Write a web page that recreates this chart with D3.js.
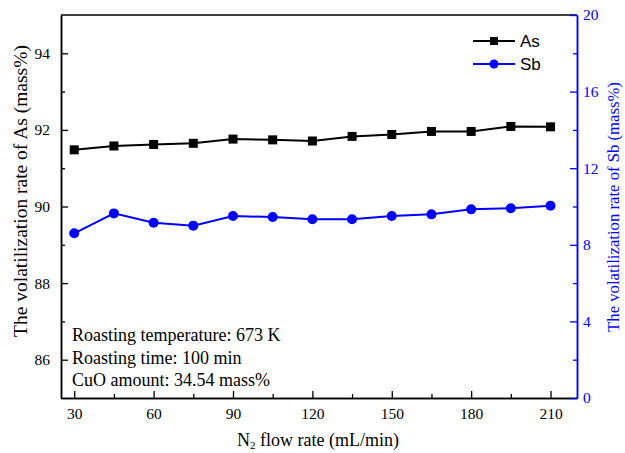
<!DOCTYPE html>
<html><head><meta charset="utf-8">
<script src="https://cdn.jsdelivr.net/npm/d3@7"></script>
<style>body{margin:0;background:#fff}svg{display:block}</style>
</head><body>
<svg id="c" width="625" height="453"></svg>
<script>
const flow = [30,45,60,75,90,105,120,135,150,165,180,195,210];
const asRate = [91.48,91.58,91.62,91.65,91.76,91.74,91.71,91.83,91.88,91.96,91.96,92.09,92.08];
const sbRate = [8.60,9.64,9.15,9.00,9.50,9.45,9.33,9.33,9.50,9.59,9.85,9.91,10.04];
const xTicks = [30,60,90,120,150,180,210];
const xMinor = [45,75,105,135,165,195];
const yLeftTicks = [86,88,90,92,94];
const yLeftMinor = [87,89,91,93];
const yRightTicks = [0,4,8,12,16,20];
const yRightMinor = [2,6,10,14,18];
const notes = ["Roasting temperature: 673 K","Roasting time: 100 min","CuO amount: 34.54 mass%"];

const L=61,R=577,T=15,B=398;
const svg=d3.select("#c");
const x=d3.scaleLinear().domain([25,220]).range([L,R]);
const yL=d3.scaleLinear().domain([85,95]).range([B,T]);
const yR=d3.scaleLinear().domain([0,20]).range([B,T]);
const serif="'Liberation Serif','Times New Roman',serif";
const blue="#0000ff";

// top border
svg.append("line").attr("x1",L).attr("x2",R).attr("y1",T).attr("y2",T).attr("stroke","#000").attr("stroke-width",1.5);

function styleAxis(g,color,fs){
  g.select(".domain").attr("stroke",color).attr("stroke-width",1.5);
  g.selectAll(".tick line").attr("stroke",color).attr("stroke-width",1.3);
  g.selectAll(".tick text").attr("fill",color).attr("font-family",serif).attr("font-size",fs);
}
// bottom axis
const gx=svg.append("g").attr("transform",`translate(0,${B})`)
  .call(d3.axisBottom(x).tickValues(xTicks).tickSizeInner(-7).tickSizeOuter(0).tickPadding(10));
styleAxis(gx,"#000",15.5);
const gxm=svg.append("g").attr("transform",`translate(0,${B})`)
  .call(d3.axisBottom(x).tickValues(xMinor).tickSizeInner(-4).tickSizeOuter(0).tickFormat(""));
styleAxis(gxm,"#000",15.5);
// left axis
const gy=svg.append("g").attr("transform",`translate(${L},0)`)
  .call(d3.axisLeft(yL).tickValues(yLeftTicks).tickSizeInner(-7).tickSizeOuter(0).tickPadding(11));
styleAxis(gy,"#000",15.5);
const gym=svg.append("g").attr("transform",`translate(${L},0)`)
  .call(d3.axisLeft(yL).tickValues(yLeftMinor).tickSizeInner(-4).tickSizeOuter(0).tickFormat(""));
styleAxis(gym,"#000",15.5);
// right axis
const gr=svg.append("g").attr("transform",`translate(${R},0)`)
  .call(d3.axisRight(yR).tickValues(yRightTicks).tickSizeInner(-7).tickSizeOuter(0).tickPadding(6));
styleAxis(gr,blue,15.5);
const grm=svg.append("g").attr("transform",`translate(${R},0)`)
  .call(d3.axisRight(yR).tickValues(yRightMinor).tickSizeInner(-4).tickSizeOuter(0).tickFormat(""));
styleAxis(grm,blue,15.5);

// series
const lineA=d3.line().x((d,i)=>x(flow[i])).y(d=>yL(d));
const lineS=d3.line().x((d,i)=>x(flow[i])).y(d=>yR(d));
svg.append("path").attr("d",lineA(asRate)).attr("fill","none").attr("stroke","#000").attr("stroke-width",2);
svg.append("path").attr("d",lineS(sbRate)).attr("fill","none").attr("stroke",blue).attr("stroke-width",2);
svg.selectAll(".sq").data(asRate).join("rect").attr("x",(d,i)=>x(flow[i])-4.5).attr("y",d=>yL(d)-4.5)
  .attr("width",9).attr("height",9).attr("fill","#000");
svg.selectAll(".ci").data(sbRate).join("circle").attr("cx",(d,i)=>x(flow[i])).attr("cy",d=>yR(d))
  .attr("r",5).attr("fill",blue);

// legend
const lg=svg.append("g");
lg.append("line").attr("x1",473).attr("x2",515).attr("y1",41).attr("y2",41).attr("stroke","#000").attr("stroke-width",2);
lg.append("rect").attr("x",490).attr("y",37).attr("width",8).attr("height",8).attr("fill","#000");
lg.append("text").attr("x",520).attr("y",47).text("As").attr("font-family","'Liberation Sans',Arial,sans-serif").attr("font-size",17);
lg.append("line").attr("x1",473).attr("x2",515).attr("y1",64).attr("y2",64).attr("stroke",blue).attr("stroke-width",2);
lg.append("circle").attr("cx",494).attr("cy",64).attr("r",4.5).attr("fill",blue);
lg.append("text").attr("x",520).attr("y",70).text("Sb").attr("font-family","'Liberation Sans',Arial,sans-serif").attr("font-size",17);

// notes
svg.selectAll(".note").data(notes).join("text").attr("x",72).attr("y",(d,i)=>341+i*22.5)
  .attr("font-family",serif).attr("font-size",18).text(d=>d);

// axis titles
const xt=svg.append("text").attr("x",318).attr("y",446).attr("text-anchor","middle").attr("font-family",serif).attr("font-size",18);
xt.append("tspan").text("N");
xt.append("tspan").text("2").attr("font-size",11).attr("dy",3);
xt.append("tspan").text(" flow rate (mL/min)").attr("dy",-3);
svg.append("text").attr("transform","translate(27,191) rotate(-90)").attr("text-anchor","middle")
  .attr("font-family",serif).attr("font-size",19.5).text("The volatilization rate of As (mass%)");
svg.append("text").attr("transform","translate(619,207) rotate(-90)").attr("text-anchor","middle")
  .attr("font-family",serif).attr("font-size",16.7).attr("fill",blue).text("The volatilization rate of Sb (mass%)");
</script>
</body></html>
